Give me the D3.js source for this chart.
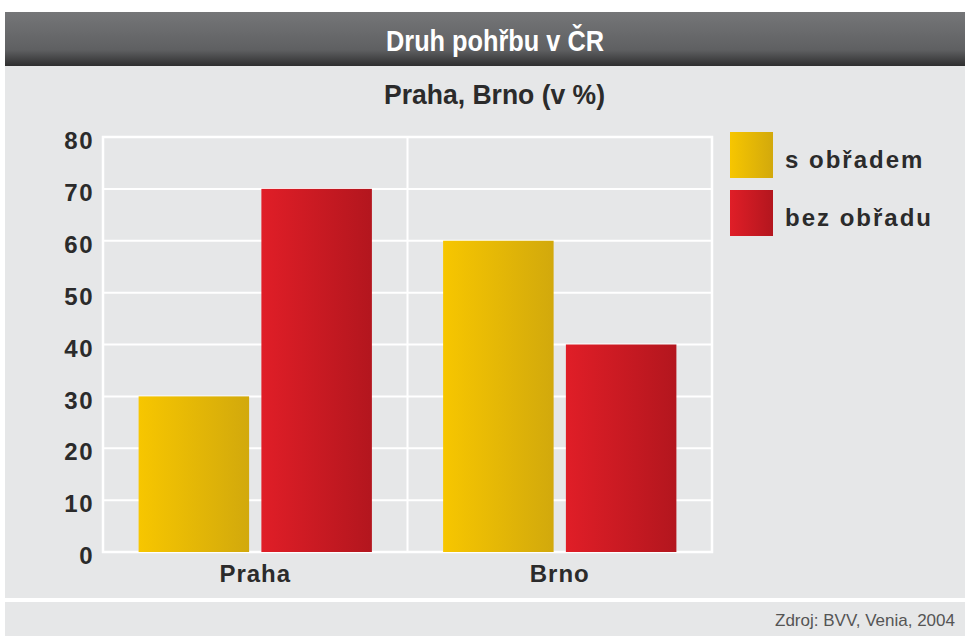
<!DOCTYPE html>
<html>
<head>
<meta charset="utf-8">
<style>
  body { margin: 0; background: #fff; font-family: "Liberation Sans", Arial, sans-serif; }
  svg { display: block; }
</style>
</head>
<body>
<svg width="965" height="636"></svg>
<script src="https://cdnjs.cloudflare.com/ajax/libs/d3/7.8.5/d3.min.js"></script>
<script>
var cities = ["Praha", "Brno"];
var series = ["s obřadem", "bez obřadu"];
var sObradem = [30, 60];
var bezObradu = [70, 40];
var yTicks = [0, 10, 20, 30, 40, 50, 60, 70, 80];

var svg = d3.select("svg");
var labelFont = "'Liberation Sans', Arial, sans-serif";

// gradients
var defs = svg.append("defs");
var tg = defs.append("linearGradient").attr("id", "titleGrad").attr("x1", 0).attr("y1", 0).attr("x2", 0).attr("y2", 1);
tg.append("stop").attr("offset", "0%").attr("stop-color", "#757678");
tg.append("stop").attr("offset", "70%").attr("stop-color", "#5f6062");
tg.append("stop").attr("offset", "100%").attr("stop-color", "#2e2e2f");

var colors = [["#f7c600", "#d2a90c"], ["#e01e27", "#b3161e"]];
colors.forEach(function(c, i) {
  var g = defs.append("linearGradient").attr("id", "barGrad" + i).attr("x1", 0).attr("y1", 0).attr("x2", 1).attr("y2", 0);
  g.append("stop").attr("offset", "0%").attr("stop-color", c[0]);
  g.append("stop").attr("offset", "100%").attr("stop-color", c[1]);
});

// background panels
svg.append("rect").attr("x", 5).attr("y", 12).attr("width", 960).attr("height", 586).attr("fill", "#e6e7e8");
svg.append("rect").attr("x", 5).attr("y", 602).attr("width", 960).attr("height", 34).attr("fill", "#e6e7e8");
svg.append("rect").attr("x", 5).attr("y", 12).attr("width", 960).attr("height", 54).attr("fill", "url(#titleGrad)");

// titles (condensed look via textLength)
svg.append("text")
  .attr("x", 386).attr("y", 51)
  .attr("textLength", 218).attr("lengthAdjust", "spacingAndGlyphs")
  .attr("fill", "#fff").attr("font-weight", "bold").attr("font-size", 29)
  .attr("font-family", labelFont)
  .text("Druh pohřbu v ČR");

svg.append("text")
  .attr("x", 384).attr("y", 104)
  .attr("textLength", 221).attr("lengthAdjust", "spacingAndGlyphs")
  .attr("fill", "#2b2b2b").attr("font-weight", "bold").attr("font-size", 28)
  .attr("font-family", labelFont)
  .text("Praha, Brno (v %)");

// plot
var plotLeft = 103, plotRight = 712, plotTop = 137, plotBottom = 552;

var y = d3.scaleLinear().domain([0, 80]).range([plotBottom, plotTop]);
var x0 = d3.scaleBand().domain(cities).range([plotLeft, plotRight]).padding(0);
var x1 = d3.scaleBand().domain(series).range([0, x0.bandwidth()]).paddingInner(0.1).paddingOuter(0.29);

var plot = svg.append("g");

plot.selectAll("line.grid").data(yTicks).enter().append("line")
  .attr("class", "grid")
  .attr("x1", plotLeft).attr("x2", plotRight)
  .attr("y1", function(d) { return y(d); }).attr("y2", function(d) { return y(d); })
  .attr("stroke", "#fff").attr("stroke-width", 2);

plot.append("rect").attr("x", plotLeft).attr("y", plotTop)
  .attr("width", plotRight - plotLeft).attr("height", plotBottom - plotTop)
  .attr("fill", "none").attr("stroke", "#fff").attr("stroke-width", 2.5);

plot.append("line")
  .attr("x1", x0("Brno")).attr("x2", x0("Brno"))
  .attr("y1", plotTop).attr("y2", plotBottom)
  .attr("stroke", "#fff").attr("stroke-width", 2);

var rows = cities.map(function(c, i) { return { city: c, values: [sObradem[i], bezObradu[i]] }; });

var groups = plot.selectAll("g.city").data(rows).enter().append("g")
  .attr("class", "city")
  .attr("transform", function(d) { return "translate(" + x0(d.city) + ",0)"; });

groups.selectAll("rect").data(function(d) { return d.values.map(function(v, i) { return { s: series[i], i: i, v: v }; }); })
  .enter().append("rect")
  .attr("x", function(d) { return x1(d.s); })
  .attr("width", x1.bandwidth())
  .attr("y", function(d) { return y(d.v); })
  .attr("height", function(d) { return y(0) - y(d.v); })
  .attr("fill", function(d) { return "url(#barGrad" + d.i + ")"; });

// y axis labels
var yAxis = d3.axisLeft(y).tickValues(yTicks).tickSize(0).tickPadding(0);
var ya = svg.append("g").attr("transform", "translate(94,4)").call(yAxis);
ya.select(".domain").remove();
ya.selectAll("text").attr("font-family", labelFont)
  .attr("font-weight", "bold").attr("font-size", 24).attr("fill", "#2b2b2b")
  .attr("letter-spacing", 1.5);

// x axis labels
var xAxis = d3.axisBottom(x0).tickSize(0).tickPadding(0);
var xa = svg.append("g").attr("transform", "translate(0," + (plotBottom + 13) + ")").call(xAxis);
xa.select(".domain").remove();
xa.selectAll("text").attr("font-family", labelFont)
  .attr("font-weight", "bold").attr("font-size", 24).attr("fill", "#2b2b2b")
  .attr("letter-spacing", 1);

// legend
var legend = svg.append("g").attr("transform", "translate(730,132)");
var li = legend.selectAll("g").data(series).enter().append("g")
  .attr("transform", function(d, i) { return "translate(0," + (i * 58) + ")"; });
li.append("rect").attr("width", 43).attr("height", 46)
  .attr("fill", function(d, i) { return "url(#barGrad" + i + ")"; });
li.append("text").attr("x", 55).attr("y", 36)
  .attr("font-family", labelFont)
  .attr("font-weight", "bold").attr("font-size", 24).attr("fill", "#2b2b2b")
  .attr("letter-spacing", 2)
  .text(function(d) { return d; });

// source
svg.append("text")
  .attr("x", 775).attr("y", 626)
  .attr("textLength", 180).attr("lengthAdjust", "spacingAndGlyphs")
  .attr("font-family", labelFont)
  .attr("fill", "#555").attr("font-size", 17)
  .text("Zdroj: BVV, Venia, 2004");
</script>
</body>
</html>
